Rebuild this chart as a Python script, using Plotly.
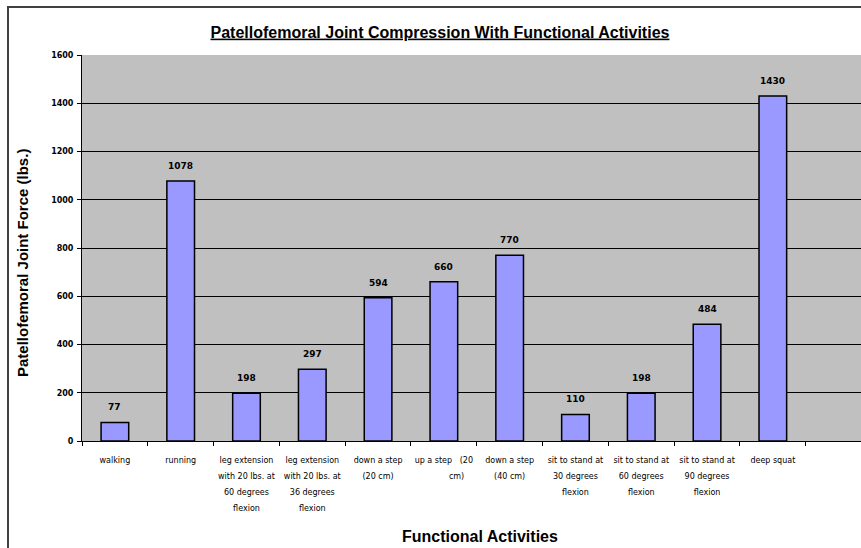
import plotly.graph_objects as go

# Activities, force values and wrapped axis labels
activities = [
    "walking",
    "running",
    "leg extension with 20 lbs. at 60 degrees flexion",
    "leg extension with 20 lbs. at 36 degrees flexion",
    "down a step (20 cm)",
    "up a step (20 cm)",
    "down a step (40 cm)",
    "sit to stand at 30 degrees flexion",
    "sit to stand at 60 degrees flexion",
    "sit to stand at 90 degrees flexion",
    "deep squat",
]
force_lbs = [77, 1078, 198, 297, 594, 660, 770, 110, 198, 484, 1430]
label_lines = [
    ["walking"],
    ["running"],
    ["leg extension", "with 20 lbs. at", "60 degrees", "flexion"],
    ["leg extension", "with 20 lbs. at", "36 degrees", "flexion"],
    ["down a step", "(20 cm)"],
    ["up a step   (20", "          cm)"],
    ["down a step", "(40 cm)"],
    ["sit to stand at", "30 degrees", "flexion"],
    ["sit to stand at", "60 degrees", "flexion"],
    ["sit to stand at", "90 degrees", "flexion"],
    ["deep squat"],
]
y_ticks = [0, 200, 400, 600, 800, 1000, 1200, 1400, 1600]

W, H = 861, 548
L, R, T, B = 82, 0, 55, 107
plot_w = W - L - R
plot_h = H - T - B


def px_x(p):
    return (p - L) / plot_w


def px_y(p):
    return (H - B - p) / plot_h


small = "DejaVu Sans"
tick_text = [
    "<br>".join(f"<span style='font-size:8px'>{ln}</span>" for ln in lines)
    for lines in label_lines
]

fig = go.Figure(
    go.Bar(
        x=activities,
        y=force_lbs,
        width=0.42,
        marker=dict(color="#9999FF", line=dict(color="black", width=1.5)),
        hoverinfo="x+y",
    )
)

# Value labels above each bar
for act, val in zip(activities, force_lbs):
    fig.add_annotation(
        x=act, y=val,
        text=f"<b>{val}</b>",
        xanchor="center", yanchor="bottom",
        yshift=8,
        showarrow=False,
        font=dict(family=small, size=9, color="black"),
    )

fig.update_layout(
    width=W,
    height=H,
    margin=dict(l=L, r=R, t=T, b=B),
    paper_bgcolor="white",
    plot_bgcolor="#C0C0C0",
    showlegend=False,
    title=dict(
        text="<b><u>Patellofemoral Joint Compression With Functional Activities</u></b>",
        font=dict(family="Liberation Sans, Arial", size=16, color="black"),
        x=440 / W,
        xanchor="center",
        xref="container",
        y=1 - 32 / H,
        yanchor="middle",
        yref="container",
    ),
)

fig.update_xaxes(
    type="category",
    range=[-0.5, 11.34],
    tickmode="array",
    tickvals=activities,
    ticktext=tick_text,
    tickfont=dict(family=small, size=12.3, color="black"),
    tickangle=0,
    tickson="boundaries",
    ticks="outside",
    ticklen=4,
    tickcolor="black",
    showline=True,
    linecolor="black",
    linewidth=1,
    showgrid=False,
    zeroline=False,
    ticklabelstandoff=6,
)

fig.update_yaxes(
    range=[0, 1600],
    tickmode="array",
    tickvals=y_ticks,
    ticktext=[f"<b>{v}</b>" for v in y_ticks],
    tickfont=dict(family=small, size=8, color="black"),
    ticks="outside",
    ticklen=4,
    tickcolor="black",
    showline=True,
    linecolor="black",
    linewidth=1,
    showgrid=True,
    gridcolor="black",
    gridwidth=1,
    zeroline=False,
    ticklabelstandoff=2,
)

# Axis titles
fig.add_annotation(
    text="<b>Functional Activities</b>",
    xref="paper", yref="paper",
    x=px_x(480), y=px_y(536),
    xanchor="center", yanchor="middle",
    showarrow=False,
    font=dict(family="Liberation Sans, Arial", size=16, color="black"),
)
fig.add_annotation(
    text="<b>Patellofemoral Joint Force (lbs.)</b>",
    xref="paper", yref="paper",
    x=px_x(22), y=px_y(263),
    xanchor="center", yanchor="middle",
    textangle=-90,
    showarrow=False,
    font=dict(family="Liberation Sans, Arial", size=15, color="black"),
)

# Chart frame around the whole figure
fig.add_shape(
    type="rect",
    xref="paper", yref="paper",
    x0=px_x(8), x1=px_x(W + 20),
    y0=px_y(H + 20), y1=px_y(7),
    line=dict(color="#404040", width=2),
    fillcolor="rgba(0,0,0,0)",
    layer="below",
)

fig.write_html("out.html")
